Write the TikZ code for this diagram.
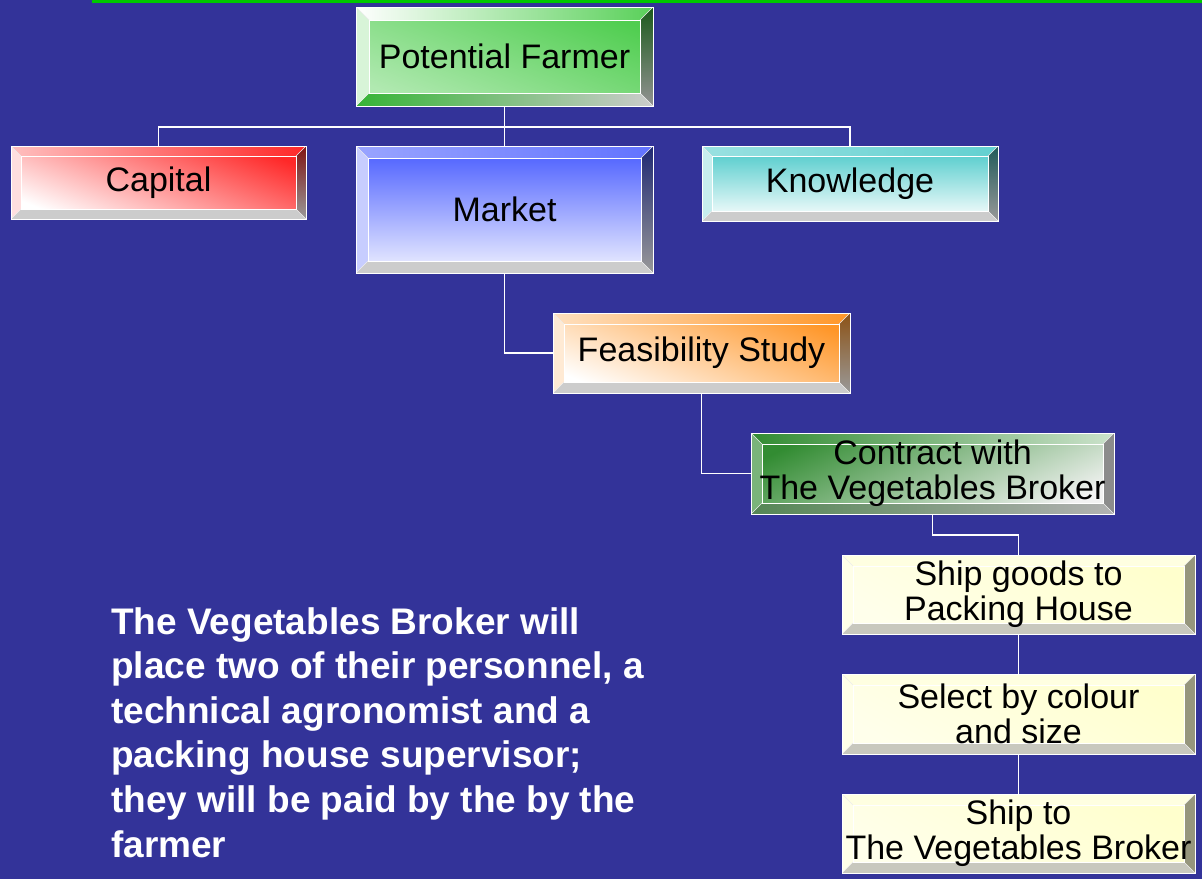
\documentclass[tikz,border=0pt]{standalone}
\usepackage{fontspec}
\setmainfont{Liberation Sans}
\usetikzlibrary{calc}
\definecolor{bg}{RGB}{51,51,153}
\definecolor{topline}{RGB}{0,200,0}
\definecolor{cgreen}{RGB}{60,200,60}
\definecolor{cred}{RGB}{255,40,40}
\definecolor{cblue}{RGB}{70,90,255}
\definecolor{cteal}{RGB}{70,200,200}
\definecolor{corange}{RGB}{255,150,40}
\definecolor{cdgreen}{RGB}{50,140,50}
\definecolor{cyel}{RGB}{255,255,205}
\definecolor{colive}{RGB}{150,150,125}
\definecolor{cgbot}{RGB}{200,200,190}
\tikzset{
  bx/.style={draw=white, line width=0.8pt, inner sep=0pt, outer sep=0pt,
    align=center, text=black, font=\fontsize{34}{35}\selectfont},
  bev/.style n args={5}{path picture={
    \path (path picture bounding box.north west) coordinate (A)
          (path picture bounding box.north east) coordinate (B)
          (path picture bounding box.south east) coordinate (C)
          (path picture bounding box.south west) coordinate (D);
    \path ($(A)+(#5,#5)$) coordinate (a) ($(B)+(-#5,#5)$) coordinate (b)
          ($(C)+(-#5,-#5)$) coordinate (c) ($(D)+(#5,-#5)$) coordinate (d);
    \path[#1] (A)--(B)--(b)--(a)--cycle;
    \path[#2] (B)--(C)--(c)--(b)--cycle;
    \path[#3] (C)--(D)--(d)--(c)--cycle;
    \path[#4] (D)--(A)--(a)--(d)--cycle;
    \draw[white!85!gray, line width=0.5pt] (A)--(a) (B)--(b) (C)--(c) (D)--(d);
    \draw[white, line width=0.6pt] (a)--(b)--(c)--(d)--cycle;
  }},
  conn/.style={draw=white, line width=1.5pt},
  note/.style={anchor=north west, inner sep=0pt, align=left, text=white,
    font=\bfseries\fontsize{37}{44.6}\selectfont},
}
\begin{document}
\begin{tikzpicture}[x=1pt, y=-1pt]
\useasboundingbox (0,0) rectangle (1202,879);
\fill[bg] (0,0) rectangle (1202,879);
\fill[topline] (92,0) rectangle (1202,2.5);

% boxes
\node[bx, minimum width=297pt, minimum height=99pt,
  top color=cgreen!90!white, middle color=white, bottom color=cgreen!40!white, shading angle=-22,
  bev={{left color=white, right color=cgreen!85!white}}{{top color=cgreen!45!black, bottom color=gray!85}}{{left color=cgreen!90!black, right color=gray!40}}{{fill=white!80!cgreen}}{13}]
  (pf) at (504.5,56.5) {Potential Farmer};

\node[bx, minimum width=295pt, minimum height=73pt,
  top color=cred, bottom color=white, shading angle=-22,
  bev={{left color=cred!30!white, right color=cred}}{{top color=cred!50!black, bottom color=gray!80}}{{fill=gray!40}}{{fill=cred!15!white}}{10}]
  (cap) at (158.5,182.5) {Capital};

\node[bx, minimum width=297pt, minimum height=127pt,
  top color=cblue, bottom color=white!92!cblue,
  bev={{left color=cblue!55!white, right color=cblue!85!white}}{{top color=cblue!45!black, bottom color=gray!80}}{{fill=gray!40}}{{fill=cblue!30!white}}{12}]
  (mk) at (504.5,209.5) {Market};

\node[bx, minimum width=296pt, minimum height=75pt,
  top color=cteal, bottom color=white,
  bev={{left color=cteal!55!white, right color=cteal!85!white}}{{top color=cteal!45!black, bottom color=gray!80}}{{fill=gray!40}}{{fill=cteal!30!white}}{10}]
  (kn) at (850,183.5) {Knowledge};

\node[bx, minimum width=297pt, minimum height=80pt,
  top color=corange, bottom color=white, shading angle=-22,
  bev={{left color=corange!30!white, right color=corange}}{{top color=corange!55!black, bottom color=gray!80}}{{fill=gray!40}}{{fill=corange!20!white}}{11}]
  (fs) at (701.5,353) {Feasibility Study};

\node[bx, minimum width=363pt, minimum height=81pt,
  top color=cdgreen, bottom color=white!90!gray, shading angle=25,
  bev={{left color=cdgreen, right color=cdgreen!25!white}}{{fill=gray!90}}{{left color=cdgreen!55!gray, right color=gray!60}}{{fill=cdgreen!65!white}}{11}]
  (ct) at (932.5,473.5) {Contract with\\The Vegetables Broker};

\node[bx, minimum width=353pt, minimum height=79pt,
  top color=cyel, bottom color=cyel!40!white, shading angle=-30,
  bev={{fill=cyel!60!white}}{{fill=colive}}{{fill=cgbot}}{{fill=cyel!45!white}}{11}]
  (sg) at (1018.5,594.5) {Ship goods to\\Packing House};

\node[bx, minimum width=353pt, minimum height=80pt,
  top color=cyel, bottom color=cyel!40!white, shading angle=-30,
  bev={{fill=cyel!60!white}}{{fill=colive}}{{fill=cgbot}}{{fill=cyel!45!white}}{11}]
  (sl) at (1018.5,714) {Select by colour\\and size};

\node[bx, minimum width=353pt, minimum height=79pt,
  top color=cyel, bottom color=cyel!40!white, shading angle=-30,
  bev={{fill=cyel!60!white}}{{fill=colive}}{{fill=cgbot}}{{fill=cyel!45!white}}{11}]
  (st) at (1018.5,833.5) {Ship to\\The Vegetables Broker};

% connectors
\coordinate (j1) at (504.5,127);
\draw[conn] (pf.south) -- (j1);
\draw[conn] (j1) -| (cap.north);
\draw[conn] (j1) -| (kn.north);
\draw[conn] (j1) -- (mk.north);
\draw[conn] (mk.south) |- (fs.west);
\draw[conn] (fs.south) |- (ct.west);
\coordinate (j2) at (932.5,535);
\draw[conn] (ct.south) -- (j2) -| (sg.north);
\draw[conn] (sg.south) -- (sl.north);
\draw[conn] (sl.south) -- (st.north);

\node[note] (txt) at (111,607) {The Vegetables Broker will\\place two of their personnel, a\\technical agronomist and a\\packing house supervisor;\\they will be paid by the by the\\farmer};
\end{tikzpicture}
\end{document}
